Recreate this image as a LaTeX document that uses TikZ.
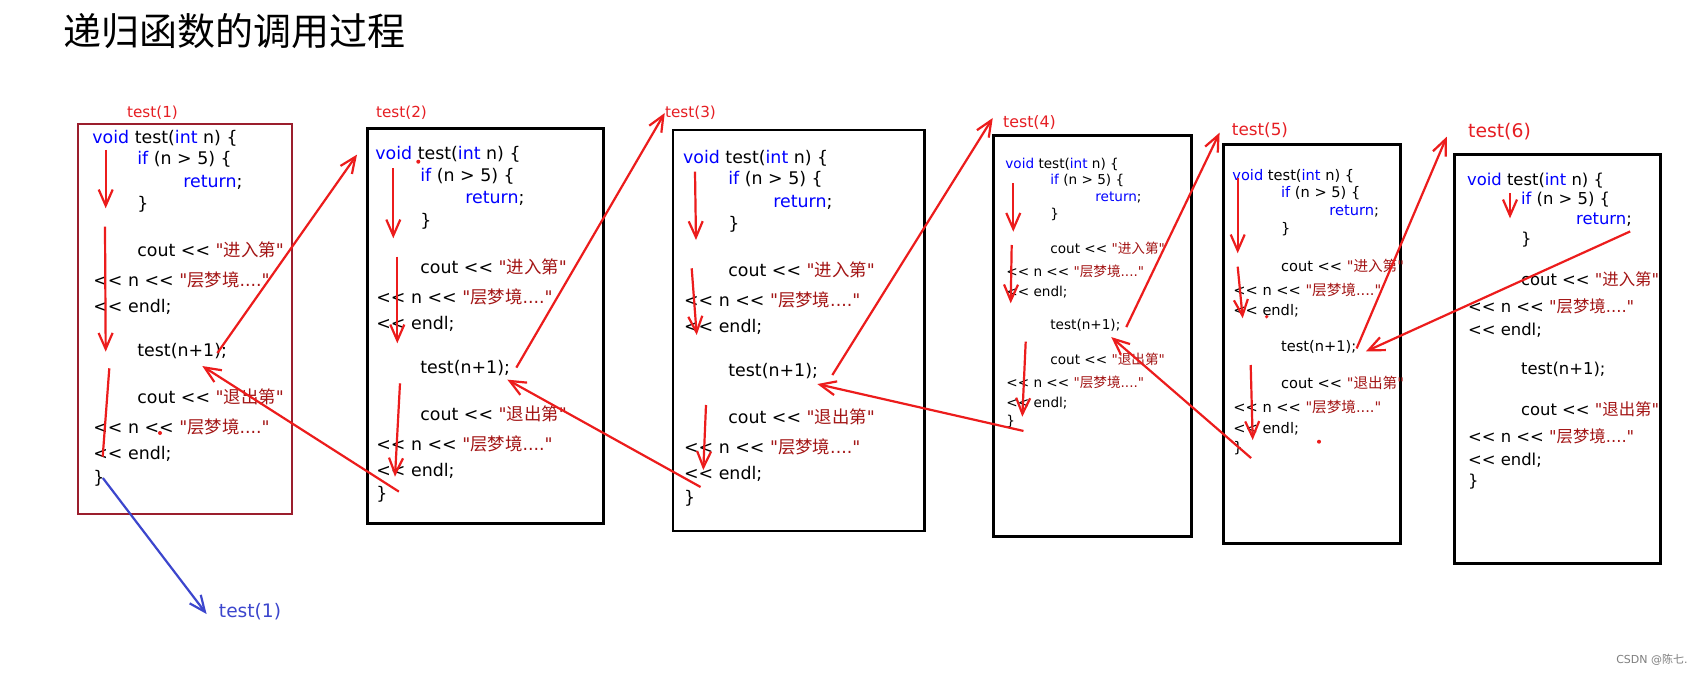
\documentclass[tikz,border=0pt]{standalone}
\usepackage{fontspec}
\newfontfamily\codefont{DejaVu Sans}
\newfontfamily\cjk{Noto Sans CJK SC}
\usetikzlibrary{arrows.meta}
\definecolor{kwblue}{RGB}{0,0,255}
\definecolor{strred}{RGB}{163,21,21}
\definecolor{penred}{RGB}{236,28,28}
\definecolor{boxred}{RGB}{155,30,45}
\definecolor{penblue}{RGB}{60,70,205}
\definecolor{lblred}{RGB}{230,30,35}

\begin{document}
\begin{tikzpicture}[x=0.5pt,y=-0.5pt]
    % Define styles
    \tikzstyle{code} = [anchor=base west, inner sep=0pt]
    \tikzstyle{frame} = [draw, anchor=north west, inner sep=0pt]
    \tikzstyle{lbl} = [text=lblred, inner sep=0pt]
    \tikzstyle{flow} = [draw=penred, line width=1.1pt, -{Straight Barb[length=8pt,width=7pt]}]

    \fill[white] (0,0) rectangle (1704,674);
    \useasboundingbox (0,0) rectangle (1704,674);

    % Title
    \node[anchor=west, inner sep=0pt, font=\cjk\fontsize{19}{19}\selectfont] (title) at (63,31) {递归函数的调用过程};

    % Frames
    \foreach \k/\x/\y/\w/\h/\c/\lw in {1/77.3/123.3/106.7/195/boxred/1, 2/366/126.7/117.85/197.65/black/1.5,
        3/671.7/129/125.8/200.5/black/1.1, 4/991.7/134/99.15/200.5/black/1.5,
        5/1221.7/142.7/88.65/199.65/black/1.5, 6/1453/153/103/204.35/black/1.7}
        \node[frame, draw=\c, line width=\lw pt, minimum width=\w pt, minimum height=\h pt] (frame\k) at (\x,\y) {};

    % Labels
    \foreach \k/\x/\y/\fs in {1/152.5/113/7.6, 2/401.5/113/7.6, 3/690.5/113/7.6,
        4/1029.5/123/7.9, 5/1260/130.7/8.4, 6/1499.5/131.7/9.4}
        \node[lbl, font=\codefont\fontsize{\fs}{\fs}\selectfont] (lbl\k) at (\x,\y) {test(\k)};

    % Code of each call
    \foreach \k/\x/\y/\s/\ia/\ib/\fs in {1/92/143.2/1/45/91/8.7, 2/375/159.8/1/45/90/8.7,
        3/682.7/163.2/1/45.3/90.3/8.7, 4/1005/168.3/0.755/45/90/6.8,
        5/1232/180.4/0.8/48.7/97/7.3, 6/1466.7/185.3/0.885/54/109/8.2} {
      \begin{scope}[font=\codefont\fontsize{\fs}{\fs}\selectfont]
        \node[code] (void\k) at (\x,\y) {{\color{kwblue}void} test({\color{kwblue}int} n) \{};
        \node[code] (if\k) at ({\x+\ia},{\y+21.5*\s}) {{\color{kwblue}if} (n > 5) \{};
        \node[code] (ret\k) at ({\x+\ib},{\y+44*\s}) {{\color{kwblue}return};};
        \node[code] (rb\k) at ({\x+\ia},{\y+66.5*\s}) {\}};
        \node[code] (in\k) at ({\x+\ia},{\y+113.3*\s}) {cout << {\color{strred}"{\cjk 进入第}"}};
        \node[code] (inn\k) at ({\x+1},{\y+143.5*\s}) {<< n << {\color{strred}"{\cjk 层梦境}...."}};
        \node[code] (inendl\k) at ({\x+1},{\y+169.3*\s}) {<< endl;};
        \node[code] (call\k) at ({\x+\ia},{\y+213.3*\s}) {test(n+1);};
        \node[code] (out\k) at ({\x+\ia},{\y+260.3*\s}) {cout << {\color{strred}"{\cjk 退出第}"}};
        \node[code] (outn\k) at ({\x+1},{\y+290.5*\s}) {<< n << {\color{strred}"{\cjk 层梦境}...."}};
        \node[code] (outendl\k) at ({\x+1},{\y+316.5*\s}) {<< endl;};
        \node[code] (end\k) at ({\x+1},{\y+340*\s}) {\}};
      \end{scope}
    }

    % Steps inside the frames
    \foreach \n/\xa/\ya/\xb/\yb in {1a/105.7/150/105.7/208.3, 1b/105/226.7/105.7/351.7,
        2a/393.3/168.3/393.3/238.3, 2b/397.3/256.7/397.3/343.3, 2c/400/383.3/395/476.7,
        3a/695/171.7/696/240, 3b/691.7/268.3/696.7/335, 3c/706/405/703.3/470,
        4a/1013.3/183.3/1013.3/231.7, 4b/1011.7/245/1010.7/303.3, 4c/1025.7/341.7/1022.3/416.7,
        5a/1237.7/178.3/1237.7/253.3, 5b/1237.7/266.7/1242.7/318.3, 5c/1250.7/365/1252.7/440,
        6a/1510/193.3/1510/218.3} {
      \coordinate (s\n) at (\xa,\ya);
      \coordinate (t\n) at (\xb,\yb);
      \draw[flow] (s\n) -- (t\n);
    }
    \coordinate (s1c) at (109.3,368.3);
    \coordinate (t1c) at (102.7,456.7);
    \draw[penred, line width=1.1pt] (s1c) -- (t1c);
    \fill[penred] (160,433) circle (1pt);
    \fill[penred] (418.3,161.7) circle (1pt);
    \fill[penred] (1266.7,316.7) circle (0.9pt);
    \fill[penred] (1319,441.7) circle (1pt);

    % Calls
    \draw[flow] ([xshift=-5pt,yshift=-1pt]call1.east) -- ([xshift=-9pt]void2.west);
    \draw[flow] ([xshift=3pt]call2.east) -- (lbl3.west);
    \draw[flow] ([xshift=7pt,yshift=-2pt]call3.east) -- ([xshift=-5pt,yshift=2.5pt]lbl4.west);
    \draw[flow] ([xshift=2.75pt,yshift=-1pt]call4.east) -- ([xshift=-6pt,yshift=-1pt]lbl5.west);
    \draw[flow] ([yshift=-1pt]call5.east) -- ([xshift=-10.5pt,yshift=-2.5pt]lbl6.west);

    % Returns
    \draw[flow] ([xshift=-1pt,yshift=-6pt]ret6.east) -- ([xshift=4.6pt,yshift=-2.5pt]call5.east);
    \draw[flow] ([xshift=4pt,yshift=-5pt]end5.east) -- ([xshift=-4.75pt,yshift=-6pt]call4.east);
    \draw[flow] ([xshift=4pt,yshift=-5pt]end4.east) -- ([xshift=-0.5pt,yshift=-6.5pt]call3.east);
    \draw[flow] ([xshift=2.5pt,yshift=5.5pt]end3.east) -- ([xshift=-1.5pt,yshift=-6pt]call2.east);
    \draw[flow] ([xshift=5.5pt,yshift=1.5pt]end2.east) -- ([xshift=-12.5pt,yshift=-7.5pt]call1.east);

    % Back to the caller
    \node[text=penblue, inner sep=0pt, font=\codefont\fontsize{9.3}{9.3}\selectfont] (back) at (250,612) {test(1)};
    \draw[flow, draw=penblue] ([xshift=-1pt]end1.east) -- ([xshift=-6pt,yshift=-1pt]back.west);

    % Watermark
    \node[text=gray, inner sep=0pt, anchor=east, font=\codefont\fontsize{5.5}{5.5}\selectfont] (mark) at (1688,660) {CSDN @{\cjk 陈七}.};
\end{tikzpicture}
\end{document}
